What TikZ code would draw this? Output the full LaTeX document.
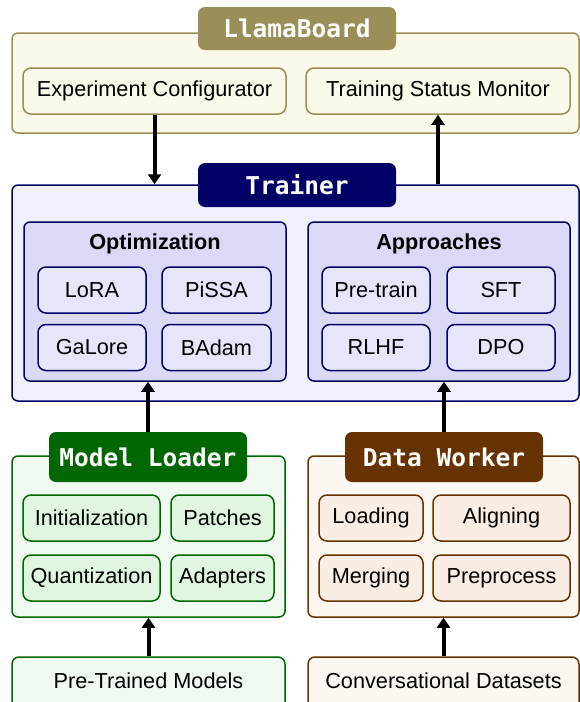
\documentclass[tikz,border=0pt]{standalone}
\usepackage{fontspec}
\setmainfont{Liberation Sans}
\newfontfamily\titlefont{DejaVu Sans Mono}
\usetikzlibrary{arrows.meta}
\definecolor{olive}{HTML}{9A8F58}
\definecolor{olivebg}{HTML}{FBF9E9}
\definecolor{navy}{HTML}{000066}
\definecolor{navybg}{HTML}{F0F0FE}
\definecolor{navygrp}{HTML}{DADAF6}
\definecolor{navybox}{HTML}{E6E6FA}
\definecolor{dgreen}{HTML}{006600}
\definecolor{greenbg}{HTML}{F1FAF1}
\definecolor{greenbox}{HTML}{E1F6E1}
\definecolor{brown}{HTML}{663300}
\definecolor{brownbg}{HTML}{FDF7F1}
\definecolor{brownbox}{HTML}{FAEEE4}
\tikzset{
  x=1pt, y=-1pt,
  txt/.style={font=\fontsize{21.7}{24}\selectfont, text=black},
  outerbox/.style={draw=#1, line width=1.5pt, rounded corners=6pt, inner sep=0pt},
  titlebox/.style={fill=#1, draw=none, rounded corners=7pt, inner sep=0pt,
    minimum width=198pt, text=white, font=\titlefont\bfseries\fontsize{24.5}{26}\selectfont},
  itembox/.style={draw=#1, line width=1.5pt, rounded corners=8pt, inner sep=0pt, txt},
  conn/.style={line width=4pt, -{Triangle[length=10pt,width=13pt]}},
}
\begin{document}
\begin{tikzpicture}
\useasboundingbox (0,0) rectangle (580,702);
\clip (0,0) rectangle (580,702);
% LlamaBoard
\node[outerbox=olive, fill=olivebg, minimum width=567pt, minimum height=100pt] (lb) at (295.5,83) {};
\node[titlebox=olive, minimum height=43pt] (lbt) at (297,28.5) {LlamaBoard};
\node[itembox=olive, fill=olivebg, minimum width=263pt, minimum height=46pt] (ec) at (154.5,91) {Experiment Configurator};
\node[itembox=olive, fill=olivebg, minimum width=264pt, minimum height=46pt] (tsm) at (438,91) {Training Status Monitor};
% Trainer
\node[outerbox=navy, fill=navybg, minimum width=567pt, minimum height=216pt] (tr) at (295.5,293) {};
\node[titlebox=navy, minimum height=44pt] (trt) at (297,185) {Trainer};
\node[outerbox=navy, fill=navygrp, minimum width=262pt, minimum height=159pt] (opt) at (155,301.5) {};
\node[txt, font=\fontsize{21.7}{24}\selectfont\bfseries] (optl) at (155,244) {Optimization};
\node[outerbox=navy, fill=navygrp, minimum width=262pt, minimum height=159pt] (app) at (439,301.5) {};
\node[txt, font=\fontsize{21.7}{24}\selectfont\bfseries] (appl) at (439,244) {Approaches};
\node[itembox=navy, fill=navybox, minimum width=108pt, minimum height=46pt] (lora) at (92,290) {LoRA};
\node[itembox=navy, fill=navybox, minimum width=109pt, minimum height=46pt] (pissa) at (216.5,290) {PiSSA};
\node[itembox=navy, fill=navybox, minimum width=108pt, minimum height=46pt] (galore) at (92,347.5) {GaLore};
\node[itembox=navy, fill=navybox, minimum width=109pt, minimum height=46pt] (badam) at (216.5,347.5) {BAdam};
\node[itembox=navy, fill=navybox, minimum width=108pt, minimum height=46pt] (pt) at (376,290) {Pre-train};
\node[itembox=navy, fill=navybox, minimum width=108pt, minimum height=46pt] (sft) at (501,290) {SFT};
\node[itembox=navy, fill=navybox, minimum width=108pt, minimum height=46pt] (rlhf) at (376,347.5) {RLHF};
\node[itembox=navy, fill=navybox, minimum width=108pt, minimum height=46pt] (dpo) at (501,347.5) {DPO};
% Model Loader
\node[outerbox=dgreen, fill=greenbg, minimum width=273pt, minimum height=161pt] (ml) at (148.5,536.5) {};
\node[titlebox=dgreen, minimum height=50pt] (mlt) at (148,457) {Model Loader};
\node[itembox=dgreen, fill=greenbox, minimum width=137pt, minimum height=46pt] (init) at (91.5,518) {Initialization};
\node[itembox=dgreen, fill=greenbox, minimum width=103pt, minimum height=46pt] (patch) at (222.5,518) {Patches};
\node[itembox=dgreen, fill=greenbox, minimum width=137pt, minimum height=46pt] (quant) at (91.5,578) {Quantization};
\node[itembox=dgreen, fill=greenbox, minimum width=103pt, minimum height=46pt] (adapt) at (222.5,578) {Adapters};
% Data Worker
\node[outerbox=brown, fill=brownbg, minimum width=271pt, minimum height=161pt] (dw) at (443.5,536.5) {};
\node[titlebox=brown, minimum height=50pt] (dwt) at (444,457) {Data Worker};
\node[itembox=brown, fill=brownbox, minimum width=104pt, minimum height=46pt] (load) at (371,518) {Loading};
\node[itembox=brown, fill=brownbox, minimum width=137pt, minimum height=46pt] (align) at (501.5,518) {Aligning};
\node[itembox=brown, fill=brownbox, minimum width=104pt, minimum height=46pt] (merge) at (371,578) {Merging};
\node[itembox=brown, fill=brownbox, minimum width=137pt, minimum height=46pt] (prep) at (501.5,578) {Preprocess};
% Sources
\node[itembox=dgreen, fill=greenbg, rounded corners=7pt, minimum width=273pt, minimum height=55pt, text depth=7pt] (ptm) at (148.5,684.5) {Pre-Trained Models};
\node[itembox=brown, fill=brownbg, rounded corners=7pt, minimum width=271pt, minimum height=55pt, text depth=7pt] (cd) at (443.5,684.5) {Conversational Datasets};
% Connectors
\draw[conn] (ec.south) -- (ec.south |- tr.north);
\draw[conn] (tsm.south |- tr.north) -- (tsm.south);
\draw[conn] (mlt.north) -- (mlt.north |- opt.south);
\draw[conn] (dwt.north) -- (dwt.north |- app.south);
\draw[conn] (ptm.north) -- (ptm.north |- ml.south);
\draw[conn] (cd.north) -- (cd.north |- dw.south);
\end{tikzpicture}
\end{document}
